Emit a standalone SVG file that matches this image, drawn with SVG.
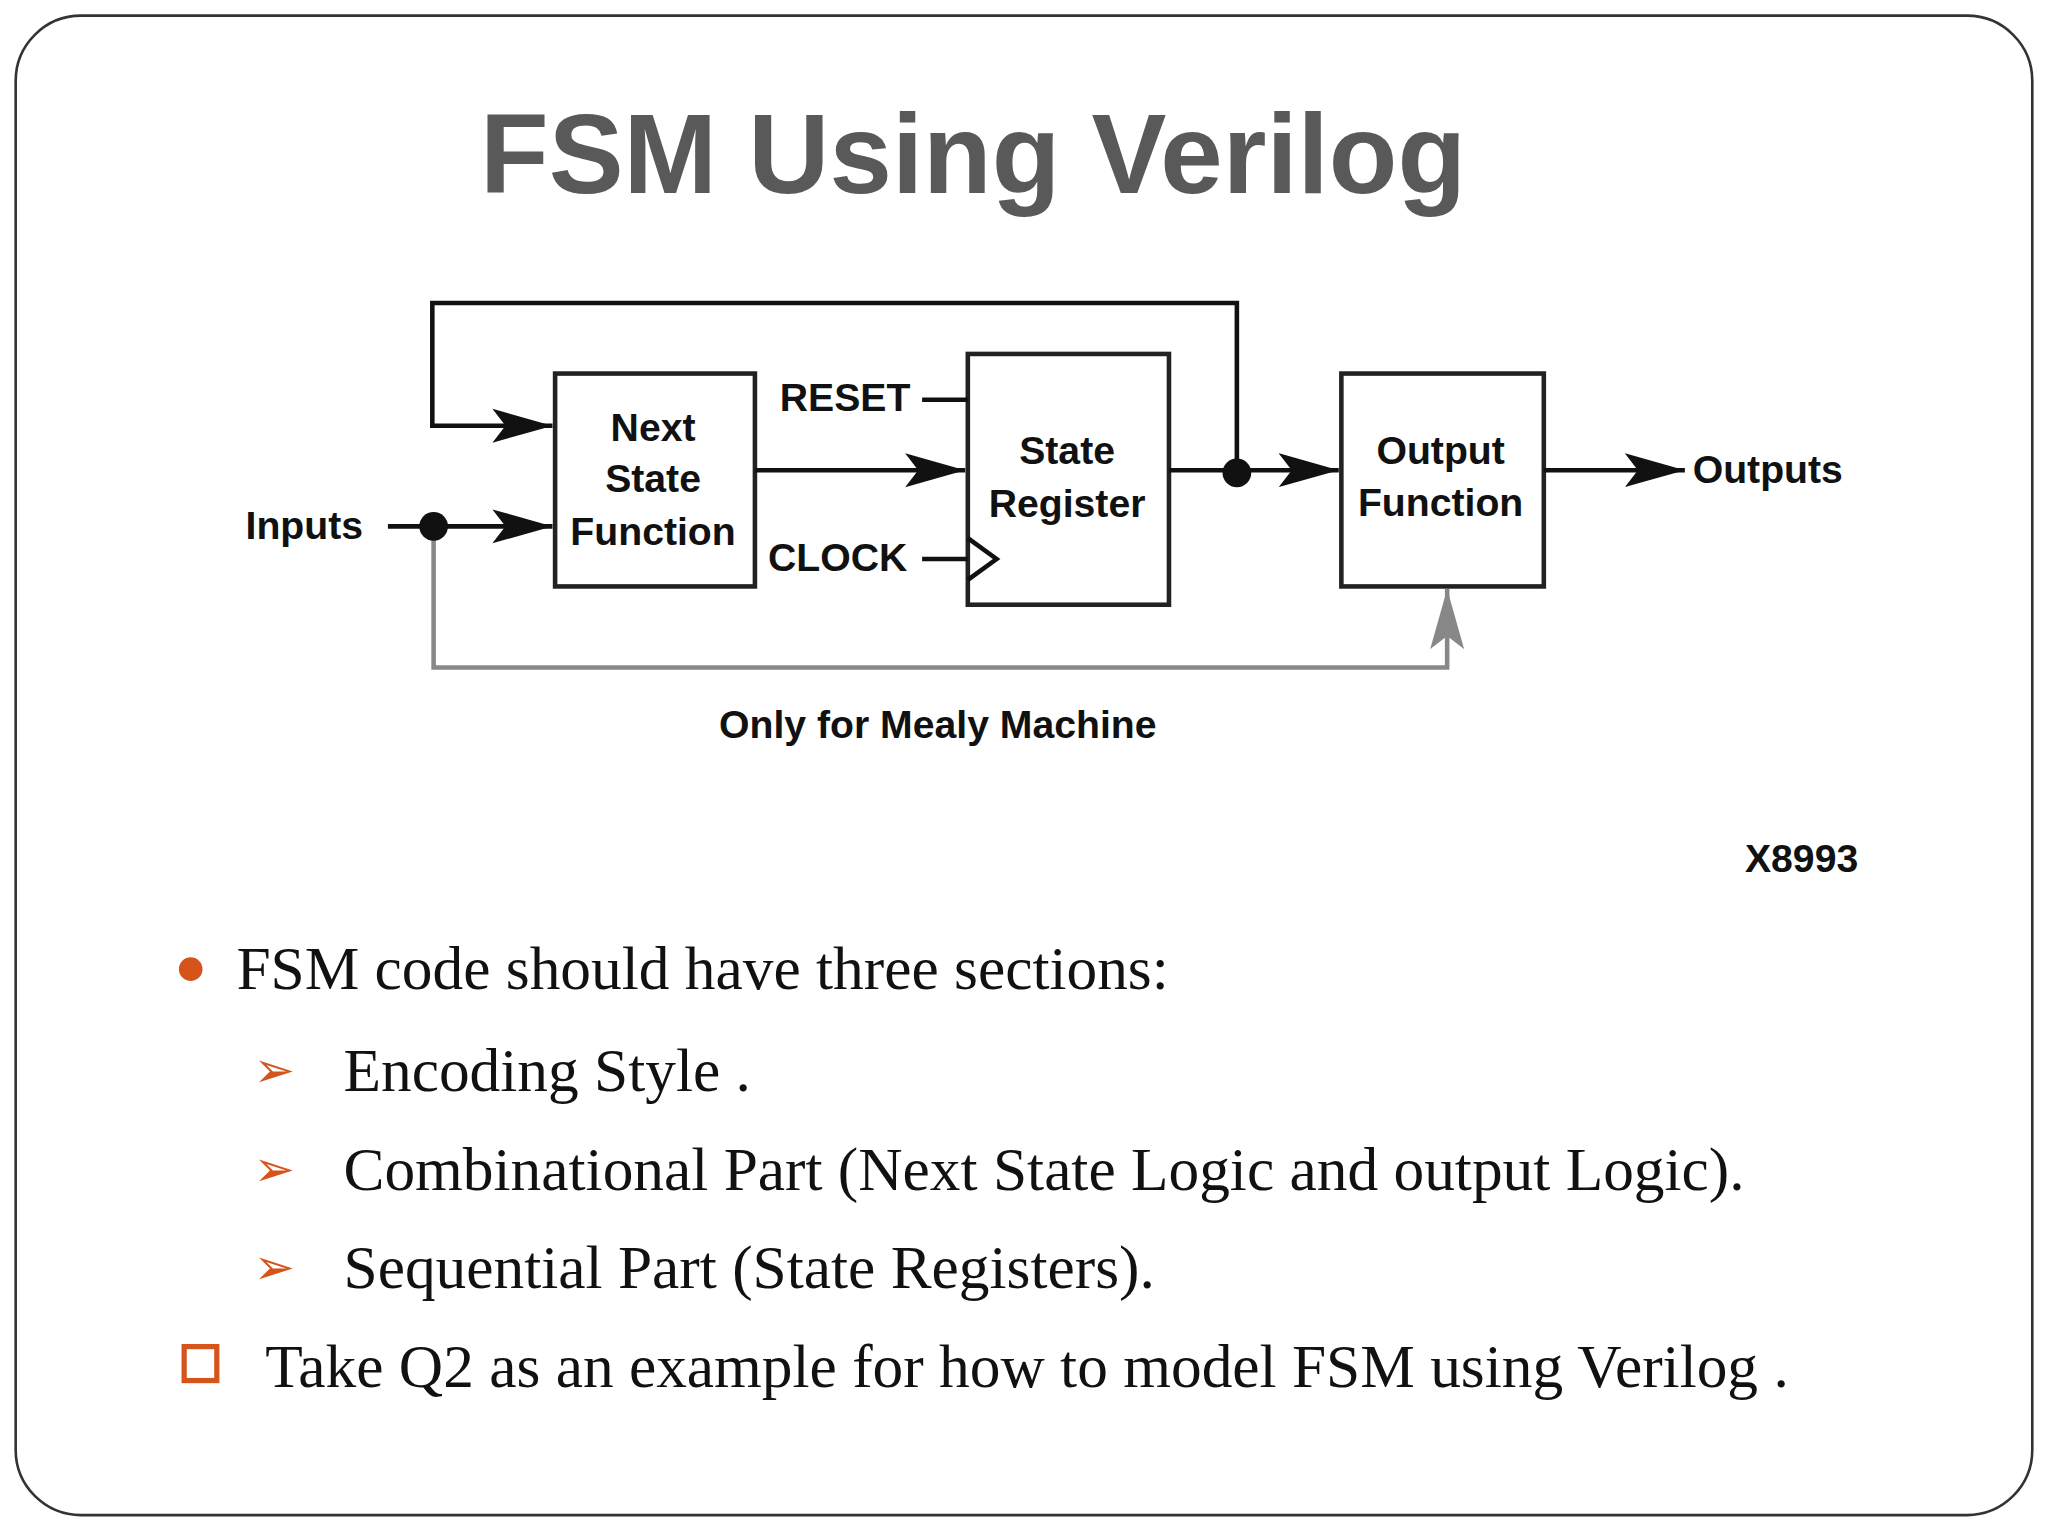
<svg xmlns="http://www.w3.org/2000/svg" width="2048" height="1536" viewBox="0 0 2048 1536">
<style>
.b{fill:#fff;stroke:#222;stroke-width:3.5}
.l{fill:none;stroke:#111;stroke-width:3.5}
.g{fill:none;stroke:#888;stroke-width:3.5}
.t{font-family:"Liberation Sans",Arial,sans-serif;font-weight:bold;font-size:30px;fill:#111}
.s{font-family:"Liberation Serif","Times New Roman",serif;font-size:47px;fill:#111}
.o{fill:#d4541c}
</style>
<defs>
<marker id="a" markerWidth="46" markerHeight="30" refX="46" refY="15" markerUnits="userSpaceOnUse" orient="auto"><path d="M0,2 L46,15 L0,28 L10,15 Z" fill="#111"/></marker>
<marker id="ag" markerWidth="46" markerHeight="30" refX="46" refY="15" markerUnits="userSpaceOnUse" orient="auto"><path d="M0,2 L46,15 L0,28 L10,15 Z" fill="#888"/></marker>
</defs>
<rect width="2048" height="1536" fill="#fff"/>
<g transform="scale(1.3061)">
<rect x="12" y="12" width="1544" height="1148" rx="50" fill="#fff" stroke="#333" stroke-width="2"/>
<text x="745" y="148" text-anchor="middle" font-family="'Liberation Sans',Arial,sans-serif" font-weight="bold" font-size="86" fill="#595959">FSM Using Verilog</text>
<g id="ns"><rect class="b" x="425" y="286" width="153" height="163"/>
<text class="t" text-anchor="middle" x="500" y="338">Next</text><text class="t" text-anchor="middle" x="500" y="377">State</text><text class="t" text-anchor="middle" x="500" y="417">Function</text></g>
<g id="sr"><rect class="b" x="741" y="271" width="154" height="192"/>
<text class="t" text-anchor="middle" x="817" y="355">State</text><text class="t" text-anchor="middle" x="817" y="396">Register</text></g>
<g id="of"><rect class="b" x="1027" y="286" width="155" height="163"/>
<text class="t" text-anchor="middle" x="1103" y="355">Output</text><text class="t" text-anchor="middle" x="1103" y="395">Function</text></g>
<g id="connectors">
<path class="g" d="M332,403 V511 H1108 V451" marker-end="url(#ag)"/>
<path class="l" d="M947,362 V232 H331 V326 H423" marker-end="url(#a)"/>
<path class="l" d="M297,403 H423" marker-end="url(#a)"/>
<path class="l" d="M578,360 H739" marker-end="url(#a)"/>
<path class="l" d="M895,360 H1025" marker-end="url(#a)"/>
<path class="l" d="M1182,360 H1290" marker-end="url(#a)"/>
<path class="l" d="M706,306 H741 M706,428 H741"/>
<path class="l" d="M741,412 L763,428 L741,444"/>
<circle cx="332" cy="403" r="11" fill="#111"/>
<circle cx="947" cy="362" r="11" fill="#111"/>
</g>
<text class="t" x="188" y="413">Inputs</text>
<text class="t" x="1296" y="370">Outputs</text>
<text class="t" x="597" y="315">RESET</text>
<text class="t" x="588" y="437">CLOCK</text>
<text class="t" x="718" y="565" text-anchor="middle">Only for Mealy Machine</text>
<text class="t" x="1336" y="668">X8993</text>
<circle class="o" cx="146" cy="742" r="9"/>
<text class="s" x="181" y="757">FSM code should have three sections:</text>
<text class="o" x="194" y="832" font-size="38" font-family="'DejaVu Sans',sans-serif">➢</text>
<text class="s" x="263" y="835">Encoding Style .</text>
<text class="o" x="194" y="908" font-size="38" font-family="'DejaVu Sans',sans-serif">➢</text>
<text class="s" x="263" y="911">Combinational Part (Next State Logic and output Logic).</text>
<text class="o" x="194" y="983" font-size="38" font-family="'DejaVu Sans',sans-serif">➢</text>
<text class="s" x="263" y="986">Sequential Part (State Registers).</text>
<rect x="141" y="1031" width="25" height="26" fill="none" stroke="#d4541c" stroke-width="4"/>
<text class="s" x="203" y="1062">Take Q2 as an example for how to model FSM using Verilog .</text>
</g>
</svg>
